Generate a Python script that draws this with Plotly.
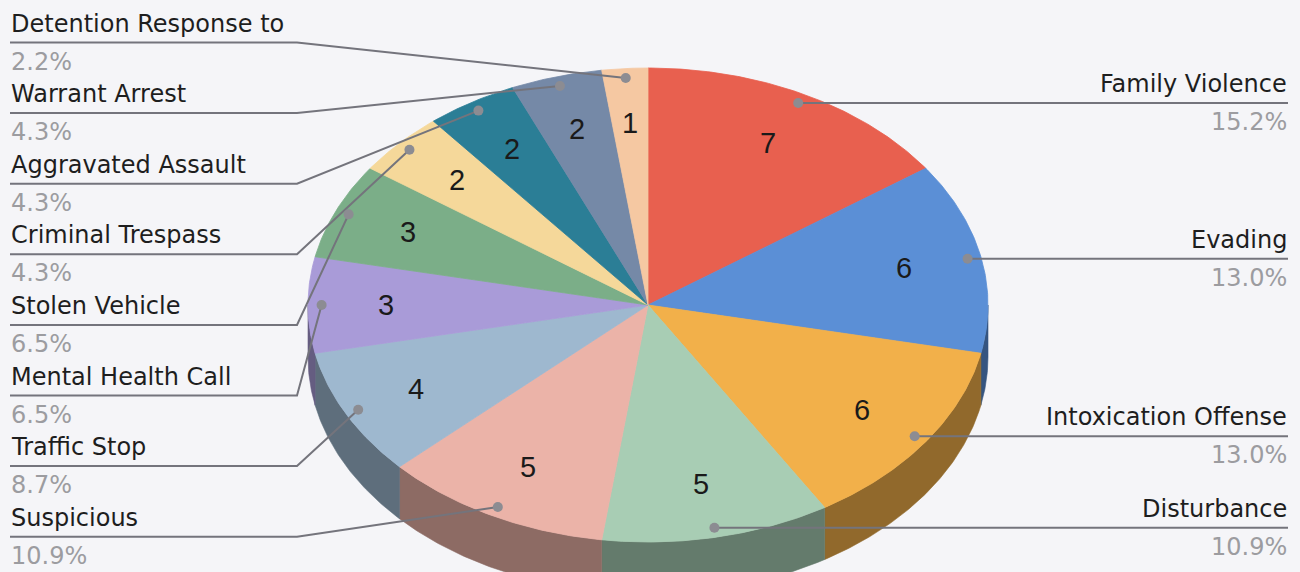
import numpy as np
import plotly.graph_objects as go

# ---------------- data ----------------
categories = ["Family Violence", "Evading", "Intoxication Offense", "Disturbance",
              "Suspicious", "Traffic Stop", "Mental Health Call", "Stolen Vehicle",
              "Criminal Trespass", "Aggravated Assault", "Warrant Arrest",
              "Detention Response to"]
counts = [7, 6, 6, 5, 5, 4, 3, 3, 2, 2, 2, 1]
colors = ["#E8604F", "#5B8FD6", "#F2B04A", "#A8CDB4", "#EBB3A8", "#9EB8CF",
          "#A99BD8", "#7BAE88", "#F5D89A", "#2B7E96", "#7589A7", "#F5C8A2"]

# ---------------- layout constants ----------------
W, H = 1300, 572
CX, CY = 648, 305          # pie centre
RX, RY = 340, 237          # ellipse radii of the top face
DEPTH = 52                 # thickness of the pie
SHADE = 0.6                # side darkening factor
DOT_R = 0.96               # relative radius of leader-line dots
NUM_R = 0.77               # relative radius of value labels
LEFT_X0, LEFT_X1 = 10, 297
LEFT_TOP, LEFT_STEP = 42.5, 70.6
RIGHT_X = 1288
LABEL_FONT = "DejaVu Sans"
LABEL_SIZE = 24
BG = "#F5F5F8"


def pt(theta_deg, r=1.0, dy=0.0):
    t = np.radians(theta_deg)
    return CX + r * RX * np.sin(t), CY - r * RY * np.cos(t) + dy


def arc(a0, a1, r=1.0, dy=0.0, n=None):
    n = n or max(4, int(abs(a1 - a0) * 2))
    th = np.linspace(a0, a1, n)
    xs, ys = pt(th, r, dy)
    return list(xs), list(ys)


def darker(hexc, f):
    hexc = hexc.lstrip("#")
    r, g, b = (int(hexc[i:i + 2], 16) for i in (0, 2, 4))
    return f"rgb({int(r * f)},{int(g * f)},{int(b * f)})"


total = sum(counts)
cum = np.concatenate([[0], np.cumsum(counts)])
starts = cum[:-1] / total * 360.0
ends = cum[1:] / total * 360.0
mids = (starts + ends) / 2

fig = go.Figure()

# side walls (front half only)
for i in range(len(counts)):
    s0, s1 = max(starts[i], 90), min(ends[i], 270)
    if s1 <= s0:
        continue
    tx, ty = arc(s0, s1)
    bx, by = arc(s1, s0, dy=DEPTH)
    fig.add_trace(go.Scatter(x=tx + bx + [tx[0]], y=ty + by + [ty[0]], mode="lines",
                             fill="toself", fillcolor=darker(colors[i], SHADE),
                             line=dict(width=0.6, color=darker(colors[i], SHADE)),
                             hoverinfo="skip", showlegend=False))

# top faces
for i in range(len(counts)):
    ax, ay = arc(starts[i], ends[i])
    fig.add_trace(go.Scatter(x=[CX] + ax + [CX], y=[CY] + ay + [CY], mode="lines",
                             fill="toself", fillcolor=colors[i],
                             line=dict(width=0.8, color=colors[i]),
                             hoverinfo="skip", showlegend=False))

annotations = []
left_items = [i for i in range(len(counts)) if mids[i] >= 180]
left_items = sorted(left_items, key=lambda i: -mids[i])  # top to bottom
right_items = [i for i in range(len(counts)) if mids[i] < 180]

dot_x, dot_y = [], []
for i in range(len(counts)):
    dx, dy = pt(mids[i], DOT_R)
    dot_x.append(dx)
    dot_y.append(dy)
    nx, ny = pt(mids[i], NUM_R)
    annotations.append(dict(x=nx, y=ny, text=str(counts[i]), showarrow=False,
                            font=dict(family="Liberation Sans", size=29, color="#1a1a1a"),
                            xanchor="center", yanchor="middle"))

pct = [f"{c / total * 100:.1f}%" for c in counts]

for k, i in enumerate(left_items):
    ly = LEFT_TOP + LEFT_STEP * k
    fig.add_trace(go.Scatter(x=[LEFT_X0, LEFT_X1, dot_x[i]], y=[ly, ly, dot_y[i]],
                             mode="lines", line=dict(color="#74747c", width=2),
                             hoverinfo="skip", showlegend=False))
    annotations.append(dict(x=LEFT_X0 - 1, y=ly - 19, text=categories[i], showarrow=False,
                            xanchor="left", yanchor="middle",
                            font=dict(family=LABEL_FONT, size=LABEL_SIZE, color="#1e1e1e")))
    annotations.append(dict(x=LEFT_X0 - 1, y=ly + 19, text=pct[i], showarrow=False,
                            xanchor="left", yanchor="middle",
                            font=dict(family=LABEL_FONT, size=LABEL_SIZE, color="#9c9ca0")))

for i in right_items:
    ly = dot_y[i]
    fig.add_trace(go.Scatter(x=[dot_x[i], RIGHT_X], y=[ly, ly],
                             mode="lines", line=dict(color="#74747c", width=2),
                             hoverinfo="skip", showlegend=False))
    annotations.append(dict(x=RIGHT_X + 1, y=ly - 19, text=categories[i], showarrow=False,
                            xanchor="right", yanchor="middle",
                            font=dict(family=LABEL_FONT, size=LABEL_SIZE, color="#1e1e1e")))
    annotations.append(dict(x=RIGHT_X + 1, y=ly + 19, text=pct[i], showarrow=False,
                            xanchor="right", yanchor="middle",
                            font=dict(family=LABEL_FONT, size=LABEL_SIZE, color="#9c9ca0")))

fig.add_trace(go.Scatter(x=dot_x, y=dot_y, mode="markers",
                         marker=dict(size=10, color="#8c8c92"),
                         hoverinfo="skip", showlegend=False))

fig.update_layout(
    width=W, height=H, margin=dict(l=0, r=0, t=0, b=0),
    paper_bgcolor=BG, plot_bgcolor=BG,
    xaxis=dict(range=[0, W], visible=False, fixedrange=True),
    yaxis=dict(range=[H, 0], visible=False, fixedrange=True),
    annotations=annotations,
)

fig.write_html("out.html")
